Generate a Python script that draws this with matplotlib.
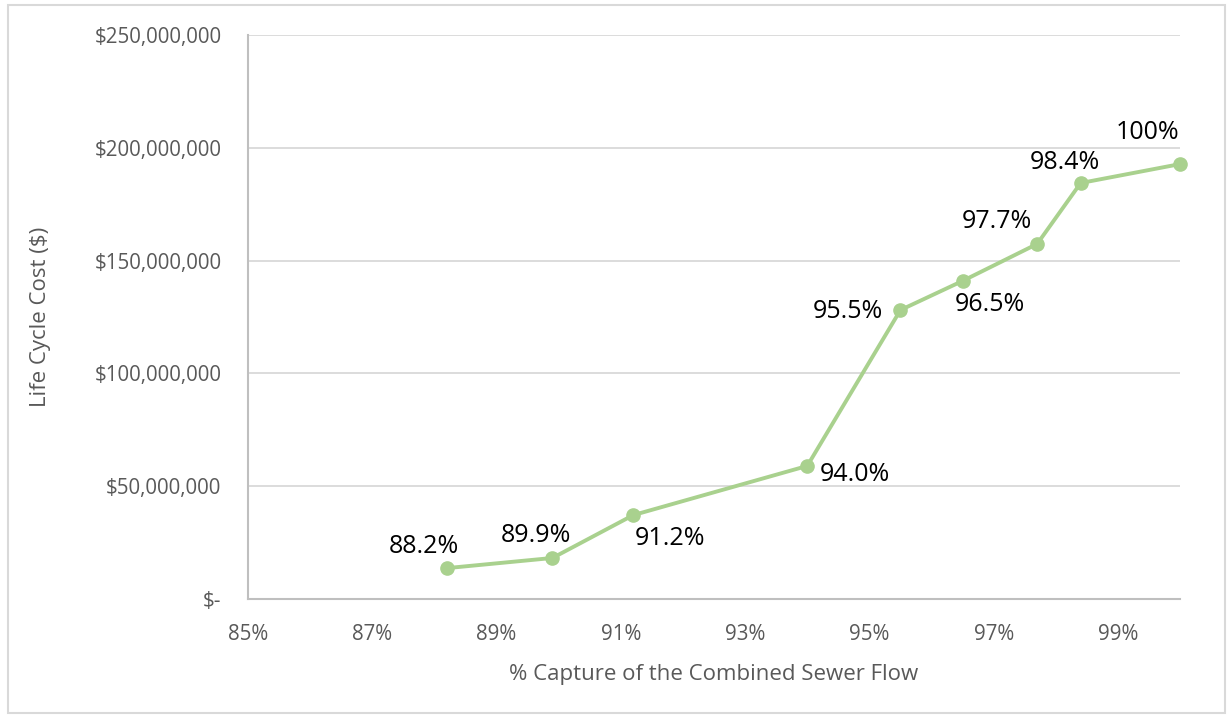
import matplotlib.pyplot as plt
from matplotlib.ticker import FuncFormatter, MultipleLocator, FixedLocator
from matplotlib.patches import Rectangle

plt.rcParams['font.family'] = ['Open Sans', 'DejaVu Sans']

# % capture vs life cycle cost
capture = [88.2, 89.9, 91.2, 94.0, 95.5, 96.5, 97.7, 98.4, 100.0]
cost = [13.7e6, 18.2e6, 37.2e6, 59.0e6, 128.1e6, 141.0e6, 157.4e6, 184.4e6, 192.8e6]
point_labels = ['88.2%', '89.9%', '91.2%', '94.0%', '95.5%', '96.5%', '97.7%', '98.4%', '100%']
x_ticks = [85, 87, 89, 91, 93, 95, 97, 99]
# label offsets in pixels (dx, dy)
offsets = [(-23, 22), (-17, 22), (37, -23), (48, -9), (-53, -1), (27, -24), (-40, 22), (-16, 21), (-33, 32)]

green = '#a9d18e'
grey = '#595959'

fig = plt.figure(figsize=(12.29, 7.15), dpi=100)
fig.patches.append(Rectangle((0.0065, 0.003), 0.99, 0.99, transform=fig.transFigure,
                             fill=False, edgecolor='#d9d9d9', linewidth=1.5))
ax = fig.add_axes([0.2018, 0.1622, 0.7584, 0.7888])

ax.plot(capture, cost, color=green, linewidth=2.8, marker='o', markersize=9.5,
        markeredgecolor=green, zorder=3, clip_on=False)
for x, y, lab, (dx, dy) in zip(capture, cost, point_labels, offsets):
    ax.annotate(lab, (x, y), xytext=(dx, dy), textcoords='offset pixels',
                ha='center', va='center', fontsize=18, color='black')

ax.set_xlim(85, 100)
ax.set_ylim(0, 250e6)
ax.xaxis.set_major_locator(FixedLocator(x_ticks))
ax.yaxis.set_major_locator(MultipleLocator(50e6))
ax.xaxis.set_major_formatter(FuncFormatter(lambda v, p: f'{v:.0f}%'))
ax.yaxis.set_major_formatter(FuncFormatter(lambda v, p: '$-' if v == 0 else f'${v:,.0f}'))

ax.grid(axis='y', color='#d9d9d9', linewidth=1.3)
ax.set_axisbelow(True)
for s in ['top', 'right']:
    ax.spines[s].set_visible(False)
for s in ['left', 'bottom']:
    ax.spines[s].set_color('#bfbfbf')
    ax.spines[s].set_linewidth(1.5)
ax.tick_params(length=0, labelsize=14.8, labelcolor=grey)
ax.tick_params(axis='x', pad=18)
ax.tick_params(axis='y', pad=19)

ax.set_xlabel('% Capture of the Combined Sewer Flow', fontsize=16, color=grey, labelpad=14)
ax.set_ylabel('Life Cycle Cost ($)', fontsize=16, color=grey, labelpad=31)

fig.savefig('out.png', dpi=100)
